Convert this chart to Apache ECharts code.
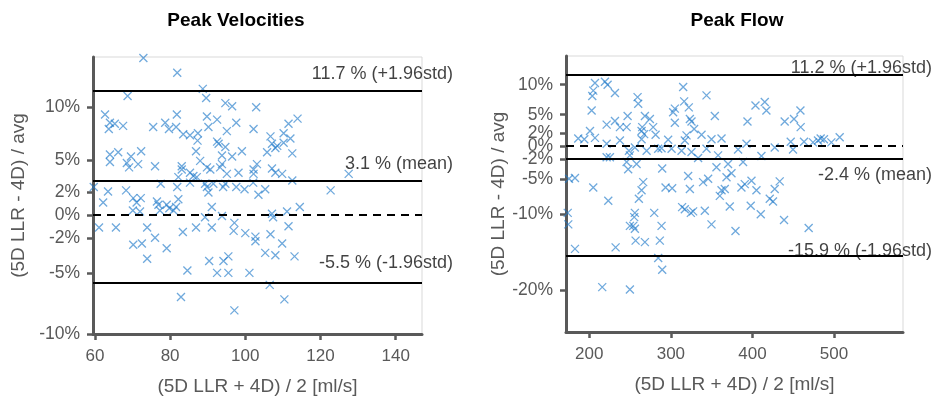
<!DOCTYPE html>
<html><head><meta charset="utf-8">
<script src="https://cdn.jsdelivr.net/npm/echarts@6/dist/echarts.min.js"></script>
<style>html,body{margin:0;padding:0;background:#fff}#c{width:934px;height:401px}</style>
</head><body><div id="c"></div>
<script>
// ---- Data: Peak Velocities (x = mean [ml/s], y = difference %) ----
const velX = [72.9,81.9,88.7,89.6,68.7,94.7,96.5,102.9,62.7,81.8,89.8,113.9,64.0,65.3,63.7,67.5,75.5,78.7,79.7,81.6,90.2,92.5,97.6,102.2,111.5,83.5,85.3,87.4,87.3,95.1,106.7,110.2,112.0,107.1,108.5,110.2,92.5,92.9,94.7,64.0,66.2,64.0,69.6,68.5,69.1,71.5,72.3,76.0,86.9,88.0,93.8,96.5,99.1,93.8,105.8,108.0,112.5,83.1,83.1,85.3,87.1,89.8,90.7,93.3,95.1,98.2,102.2,103.1,107.1,108.0,112.5,109.8,102.2,82.2,81.9,77.5,59.7,63.5,62.2,68.3,70.2,72.2,71.1,76.5,76.9,79.1,79.8,82.2,81.6,70.1,72.0,77.3,80.9,85.3,86.2,89.3,89.8,90.2,91.5,94.1,94.7,97.6,99.8,102.1,103.5,105.3,122.7,91.1,89.3,93.8,97.1,96.9,100.0,102.7,102.7,107.1,107.4,111.1,114.5,111.5,106.7,109.8,61.1,65.6,73.9,76.0,70.2,72.5,79.1,73.9,83.4,86.9,91.1,90.4,94.2,95.5,84.6,92.5,95.5,101.1,105.3,108.0,113.1,106.5,110.4,82.9,97.1,127.5];
const velY = [14.9,13.4,11.8,10.9,11.1,10.4,10.1,10.0,9.3,9.3,9.1,8.9,8.5,8.4,7.9,8.2,8.1,8.5,7.9,8.1,8.1,8.8,8.5,7.9,8.4,7.4,7.3,7.5,6.8,7.7,7.2,7.5,7.0,6.5,6.3,6.6,6.7,6.5,6.2,5.5,5.7,4.8,5.3,4.7,4.3,4.6,5.8,4.4,5.8,4.9,5.4,5.3,5.8,4.6,5.7,6.1,5.6,4.4,4.1,3.8,3.4,4.3,4.1,4.3,3.7,3.8,4.1,4.6,4.2,3.8,3.1,3.7,3.7,3.4,2.5,2.8,2.5,2.1,1.1,2.2,1.5,1.5,1.1,1.2,0.9,0.9,0.6,1.4,0.7,0.4,0.3,0.4,0.4,2.9,3.5,2.8,2.5,2.0,2.8,2.5,2.8,2.5,2.3,2.9,1.8,2.3,2.2,0.7,-0.2,-0.1,-0.7,-1.4,-1.6,-1.9,-2.3,0.1,-0.2,0.3,0.7,-1.0,-1.7,-2.5,-1.1,-1.1,-1.1,-2.0,-2.6,-2.5,-2.9,-3.8,-1.5,-1.1,-1.1,-4.0,-4.0,-3.6,-4.8,-5.0,-5.0,-5.0,-3.3,-3.5,-3.6,-6.0,-7.2,-7.0,-8.1,3.7];
const velLimits = [11.7, 3.1, -5.5];           // +1.96std, mean, -1.96std
const velXTicks = [60, 80, 100, 120, 140];
const velYTicks = [-10, -5, -2, 0, 2, 5, 10];
const velXRange = [59.5, 147];
const velYRange = [-10, 15];

// ---- Data: Peak Flow ----
const flowX = [207.0,219.2,222.5,204.9,203.7,231.5,202.9,200.9,186.5,193.9,207.0,221.3,231.5,237.6,245.8,247.0,259.2,260.0,268.2,274.3,264.9,264.1,267.3,278.3,281.3,264.1,221.3,237.6,255.9,248.6,249.8,221.3,225.3,245.8,247.7,258.0,270.3,284.5,288.6,296.7,300.9,304.9,302.8,304.9,315.1,316.3,322.0,323.3,325.3,328.5,319.2,317.1,313.1,325.3,333.4,337.6,343.7,353.9,349.8,362.1,343.7,357.9,355.9,370.1,374.3,368.2,382.4,392.7,393.9,403.7,415.1,417.1,411.0,388.5,427.3,439.5,450.9,458.8,459.1,446.9,449.7,463.2,474.2,483.6,487.6,496.7,506.9,480.3,175.2,182.5,204.9,223.3,173.6,174.3,182.5,232.3,215.9,249.8,266.1,264.1,260.8,255.9,255.1,249.8,253.9,255.9,256.8,268.2,279.6,288.6,286.5,284.5,289.4,293.5,301.6,289.4,313.8,317.1,324.5,327.3,323.3,321.2,339.5,345.7,341.6,349.8,360.0,362.1,366.1,372.2,379.2,386.5,390.6,397.9,404.9,398.8,410.2,421.2,425.2,427.3,433.4,438.7,468.9];
const flowY = [10.3,10.5,10.0,9.0,8.1,8.6,5.7,2.4,1.2,1.1,1.3,3.4,4.0,3.0,3.0,4.8,7.9,6.8,4.8,4.3,3.0,2.4,1.9,3.0,1.8,1.1,0.4,0.9,-0.2,-0.7,-1.4,-1.7,-1.7,-2.4,-3.5,-2.7,-0.7,-0.4,-0.3,1.0,-0.4,6.0,5.4,3.7,9.6,7.2,6.2,4.3,3.9,2.7,1.7,0.9,-0.7,-0.9,-1.8,1.8,8.2,4.8,1.1,1.2,-0.4,-1.4,-3.2,-2.7,-4.1,-4.7,-0.5,0.4,3.9,6.5,7.1,5.7,-1.5,-2.4,-0.2,3.9,4.3,5.7,3.0,0.7,-0.5,0.7,0.6,1.2,1.1,0.6,1.4,0.9,-4.9,-4.8,-6.2,-8.1,-9.8,-11.4,-14.7,-14.5,-19.6,-19.9,-5.4,-6.6,-7.8,-9.8,-10.4,-11.6,-11.6,-12.0,-13.6,-13.8,-9.8,-11.6,-13.6,-15.9,-17.4,-6.2,-6.3,-3.4,-9.0,-9.3,-9.8,-9.6,-6.4,-4.5,-5.4,-4.9,-9.5,-11.4,-7.4,-6.6,-6.4,-8.9,-12.3,-6.2,-5.7,-8.8,-6.6,-5.2,-10.0,-7.8,-8.2,-6.4,-5.3,-10.8,-11.9];
const flowLimits = [11.2, -2.4, -15.9];
const flowXTicks = [200, 300, 400, 500];
const flowYTicks = [-20, -10, -5, -2, 0, 2, 5, 10];
const flowXRange = [171.5, 584.5];
const flowYRange = [-25, 15];

const titles = ['Peak Velocities', 'Peak Flow'];
const yName = '(5D LLR - 4D) / avg';
const xName = '(5D LLR + 4D) / 2 [ml/s]';
const limitNames = ['(+1.96std)', '(mean)', '(-1.96std)'];

// ---- Chart ----
const FONT = '"Liberation Sans", Arial, sans-serif';
const GREY = '#595959';
const T = p => Math.log(1 + p / 100);
const fmtPct = v => { const r = Math.round((Math.exp(v) - 1) * 100); return (r === 0 ? 0 : r) + '%'; };
const pts = (xs, ys) => xs.map((x, i) => [x, T(ys[i])]);

const xSymbol = 'path://M0,0L10,10M10,0L0,10';
function scatter(idx, xs, ys) {
  return {
    type: 'scatter', xAxisIndex: idx, yAxisIndex: idx, data: pts(xs, ys),
    symbol: xSymbol, symbolSize: 8, symbolKeepAspect: true, silent: true,
    itemStyle: { color: 'rgba(0,0,0,0)', borderColor: 'rgba(30,120,200,0.8)', borderWidth: 1.3 },
    markLine: {
      silent: true, symbol: 'none', label: { show: false }, animation: false,
      data: [
        { yAxis: T(0), lineStyle: { color: '#000', width: 2, type: [8, 6] } },
        ...(idx === 0 ? velLimits : flowLimits).map(v => ({ yAxis: T(v), lineStyle: { color: '#000', width: 2, type: 'solid' } }))
      ]
    }
  };
}
function labels(idx, xmax, lims, dx, dys) {
  return {
    type: 'scatter', xAxisIndex: idx, yAxisIndex: idx, symbolSize: 0, silent: true, clip: false,
    data: lims.map((v, i) => ({
      value: [xmax, T(v)], name: v + ' % ' + limitNames[i],
      label: { show: true, position: [dx, dys[i]], align: 'right', verticalAlign: 'middle',
        formatter: '{b}', fontSize: 18, fontFamily: FONT, color: '#111' }
    }))
  };
}
function xAxis(idx, range, ticks) {
  return {
    type: 'value', gridIndex: idx, min: range[0], max: range[1],
    name: xName, nameLocation: 'middle', nameGap: 43,
    nameTextStyle: { fontSize: 19, fontFamily: FONT, color: GREY },
    axisLine: { show: true, onZero: false, lineStyle: { color: GREY, width: 3 } },
    axisTick: { show: true, length: 6, customValues: ticks, lineStyle: { color: GREY, width: 2.5 } },
    axisLabel: { customValues: ticks, margin: 14, fontSize: 17, fontFamily: FONT, color: GREY },
    splitLine: { show: false }
  };
}
function yAxis(idx, range, ticks, gap) {
  const tv = ticks.map(T);
  return {
    type: 'value', gridIndex: idx, min: T(range[0]), max: T(range[1]),
    name: yName, nameLocation: 'middle', nameGap: gap,
    nameTextStyle: { fontSize: 19, fontFamily: FONT, color: GREY },
    axisLine: { show: true, onZero: false, lineStyle: { color: GREY, width: 3 } },
    axisTick: { show: true, length: 6, customValues: tv, lineStyle: { color: GREY, width: 2.5 } },
    axisLabel: { customValues: tv, formatter: fmtPct, margin: 13, fontSize: 17.5, fontFamily: FONT, color: GREY },
    splitLine: { show: false }
  };
}

const chart = echarts.init(document.getElementById('c'));
chart.setOption({
  animation: false,
  backgroundColor: '#fff',
  title: [
    { text: titles[0], left: 231, top: 6, textAlign: 'center', textStyle: { fontSize: 19, fontWeight: 'bold', fontFamily: FONT, color: '#000' } },
    { text: titles[1], left: 732, top: 6, textAlign: 'center', textStyle: { fontSize: 19, fontWeight: 'bold', fontFamily: FONT, color: '#000' } }
  ],
  grid: [
    { left: 93, right: 512, top: 57, bottom: 67, show: true, borderColor: '#d9d9d9', borderWidth: 1, backgroundColor: 'transparent' },
    { left: 566, right: 31, top: 56, bottom: 69, show: true, borderColor: '#d9d9d9', borderWidth: 1, backgroundColor: 'transparent' }
  ],
  xAxis: [xAxis(0, velXRange, velXTicks), xAxis(1, flowXRange, flowXTicks)],
  yAxis: [yAxis(0, velYRange, velYTicks, 65), yAxis(1, flowYRange, flowYTicks, 58)],
  series: [
    scatter(0, velX, velY),
    scatter(1, flowX, flowY),
    labels(0, velXRange[1], velLimits, 31, [-16, -16, -16]),
    labels(1, flowXRange[1], flowLimits, 29, [-10, 13, -7])
  ]
});
</script></body></html>
